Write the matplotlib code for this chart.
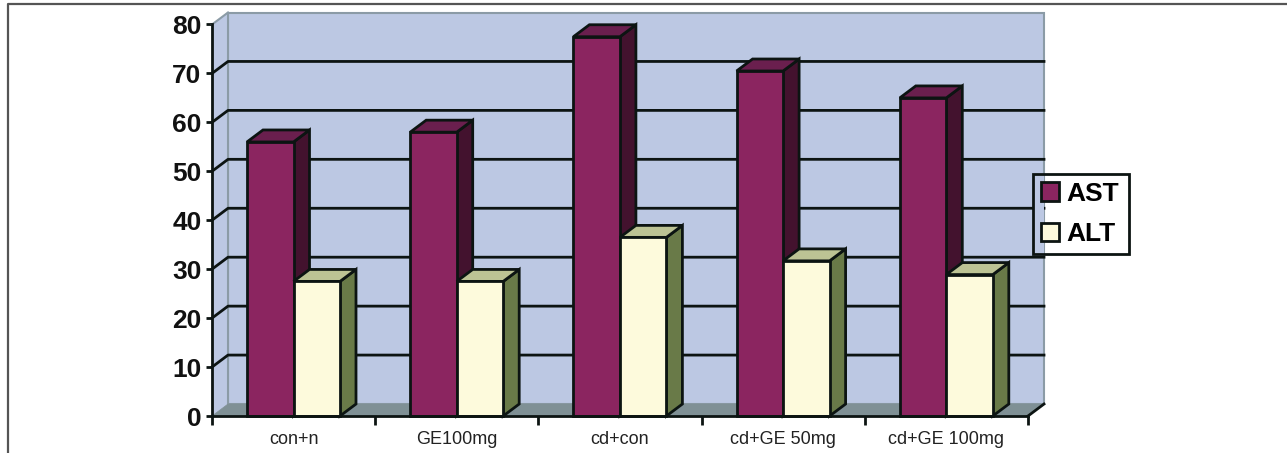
import matplotlib
matplotlib.use("Agg")
import matplotlib.pyplot as plt
from matplotlib.lines import Line2D
from matplotlib.patches import Patch, Polygon, Rectangle

plt.rcParams['font.family'] = ['Liberation Sans', 'DejaVu Sans']

categories = ["con+n", "GE100mg", "cd+con", "cd+GE 50mg", "cd+GE 100mg"]
ast = [56, 58, 77.5, 70.5, 65]
alt = [27.5, 27.5, 36.5, 31.7, 28.9]
y_ticks = [0, 10, 20, 30, 40, 50, 60, 70, 80]

W, H = 1287, 453
WALL = "#bcc8e3"
FLOOR = "#7f9095"
INK = "#0c1412"
AST_FACES = ("#8b2560", "#6a1f4e", "#43122e")
ALT_FACES = ("#fdfadc", "#bcc394", "#697a48")

# depth of the fake 3D box, in axis units (one category wide, y in value units)
DX = 16 / 163.2
DY = 12 / 4.9
BAR_W = 46.5 / 163.2
BAR_OFF = 35 / 163.2
LW = 2.0


def poly(ax, pts, color, z, edge=None, lw=LW):
    ax.add_patch(Polygon(pts, closed=True, facecolor=color, edgecolor=edge or color,
                         linewidth=lw, zorder=z, clip_on=False, joinstyle="miter"))


def bar3d(ax, x0, val, faces, z):
    x1 = x0 + BAR_W
    poly(ax, [(x1, 0), (x1 + DX, DY), (x1 + DX, val + DY), (x1, val)], faces[2], z, INK)
    poly(ax, [(x0, val), (x0 + DX, val + DY), (x1 + DX, val + DY), (x1, val)], faces[1], z, INK)
    poly(ax, [(x0, 0), (x1, 0), (x1, val), (x0, val)], faces[0], z + 0.1, INK)


fig = plt.figure(figsize=(W / 100, H / 100), dpi=100)
ax = fig.add_axes([212 / W, 1 - 416 / H, 816 / W, 391.5 / H])
ax.set_xlim(0, 5)
ax.set_ylim(0, 80)
ax.patch.set_visible(False)

# walls and floor
poly(ax, [(DX, DY), (5 + DX, DY), (5 + DX, 80 + DY), (DX, 80 + DY)], WALL, 1, "#8b9ba6", 1.5)
poly(ax, [(0, 0), (DX, DY), (DX, 80 + DY), (0, 80)], WALL, 1, WALL, 0.5)
ax.plot([DX, DX], [DY, 80 + DY], color="#8b9ba6", lw=1.5, zorder=1.2, clip_on=False)
poly(ax, [(0, 0), (DX, DY), (5 + DX, DY), (5, 0)], FLOOR, 1.5, FLOOR, 0.5)

# gridlines wrap round the side wall
for v in y_ticks[1:-1]:
    ax.plot([0, DX, 5 + DX], [v, v + DY, v + DY], color=INK, lw=LW, zorder=2, clip_on=False)
ax.plot([0, DX], [80, 80 + DY], color="#8b9ba6", lw=1.5, zorder=2, clip_on=False)
ax.plot([5, 5 + DX], [0, DY], color=INK, lw=LW, zorder=2, clip_on=False)

for i in range(len(categories)):
    bar3d(ax, i + BAR_OFF, ast[i], AST_FACES, 3)
    bar3d(ax, i + BAR_OFF + BAR_W, alt[i], ALT_FACES, 4)

# axes
for s in ("top", "right"):
    ax.spines[s].set_visible(False)
for s in ("left", "bottom"):
    ax.spines[s].set_linewidth(LW)
    ax.spines[s].set_color(INK)
    ax.spines[s].set_zorder(5)
ax.set_yticks(y_ticks)
ax.set_yticklabels([str(v) for v in y_ticks], fontsize=19, fontweight="bold", color="#111111")
ax.set_xticks(range(6))
ax.set_xticklabels([])
ax.set_xticks([i + 0.5 for i in range(5)], minor=True)
ax.set_xticklabels(categories, minor=True, fontsize=13, color="#222222")
ax.tick_params(axis="y", length=4, width=LW, color=INK, pad=3.5)
ax.tick_params(axis="x", which="major", length=6.5, width=LW, color=INK)
ax.tick_params(axis="x", which="minor", length=0, pad=10.5)

# wall shows through the legend, the gridline does not
ax.add_patch(Rectangle((1033, H - 254), 11, 80, transform=None, facecolor=WALL,
                       edgecolor="none", zorder=6, clip_on=False))
handles = [Patch(facecolor=AST_FACES[0], edgecolor=INK, linewidth=LW),
           Patch(facecolor=ALT_FACES[0], edgecolor=INK, linewidth=LW)]
leg = ax.legend(handles, ["AST", "ALT"], loc="lower left",
                bbox_to_anchor=(1033 / W, 1 - 254 / H, 96 / W, 80 / H),
                bbox_transform=fig.transFigure, mode="expand", ncol=1, borderaxespad=0,
                prop={"size": 19, "weight": "bold"}, fancybox=False, facecolor="none",
                edgecolor=INK, framealpha=1, handlelength=0.68, handleheight=0.68,
                handletextpad=0.28, labelspacing=0.62, borderpad=0.3)
leg.get_frame().set_linewidth(LW)
leg.set_zorder(7)

# image border, top and left
fig.add_artist(Line2D([7.5 / W, 7.5 / W, 1], [0, 1 - 4 / H, 1 - 4 / H], color="#555555", lw=1.6))

fig.savefig("out.png", dpi=100, facecolor="white")
